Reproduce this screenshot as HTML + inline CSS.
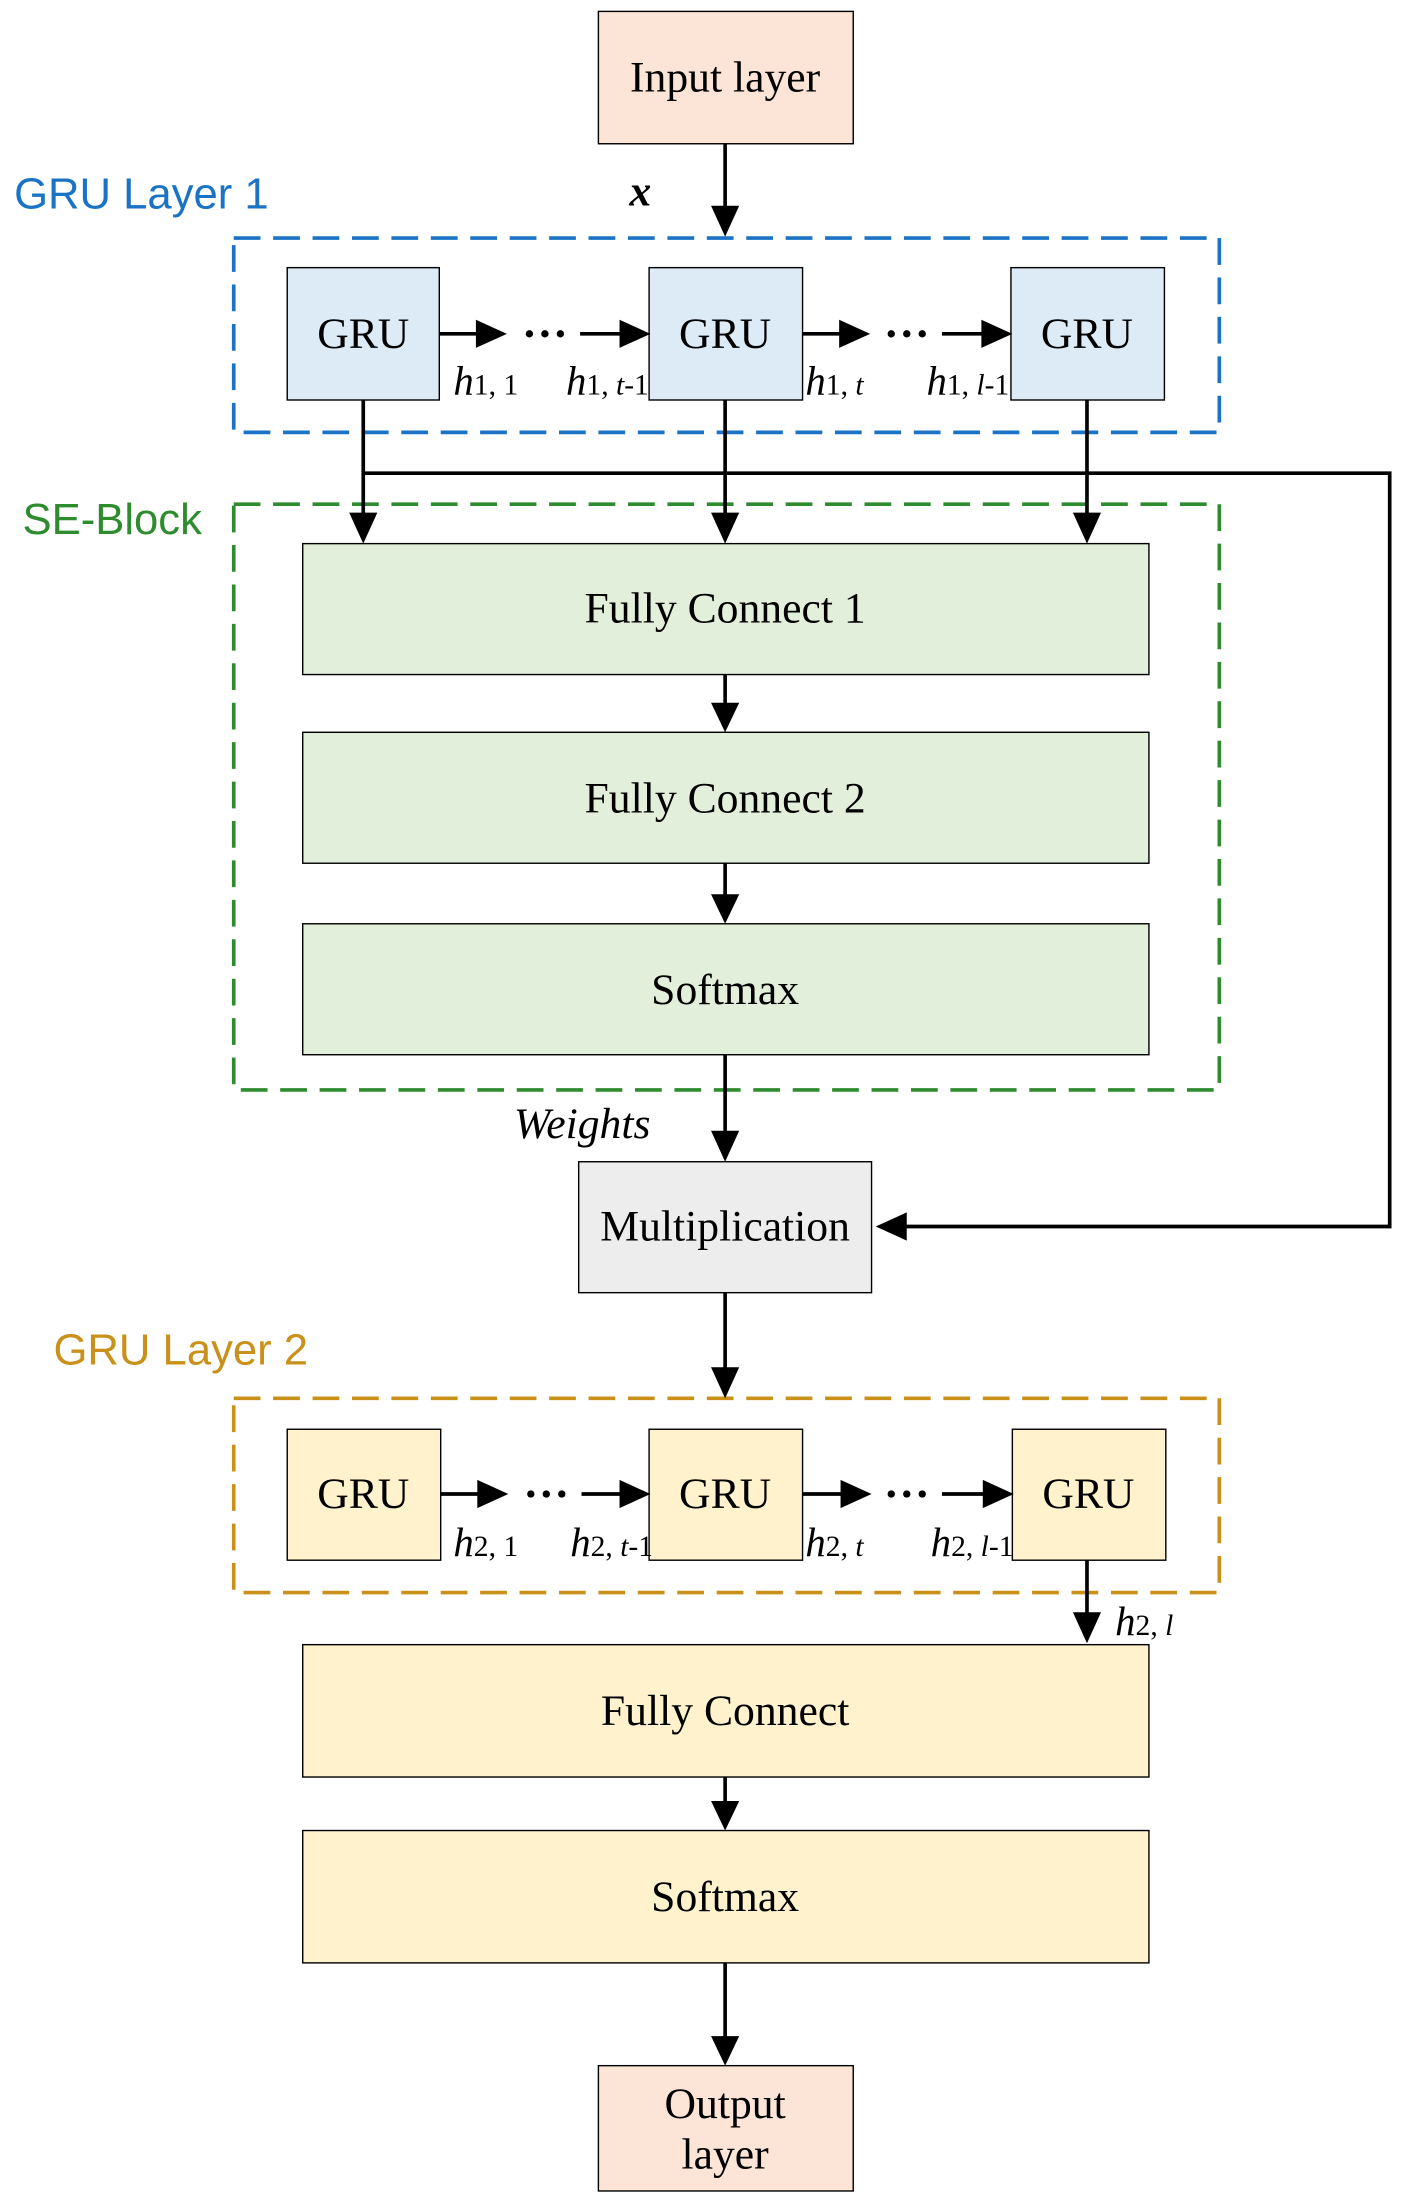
<!DOCTYPE html>
<html><head><meta charset="utf-8"><style>
html,body{margin:0;padding:0;background:#fff;}
svg{display:block;}
.t{font-family:"Liberation Serif",serif;font-size:31px;fill:#000;}
.s{font-family:"Liberation Sans",sans-serif;font-size:31px;}
.h{font-family:"Liberation Serif",serif;font-style:italic;font-size:29px;}
.sub{font-size:21px;}
</style></head><body>
<svg width="1408" height="2208" viewBox="0 0 1000 1568" xmlns="http://www.w3.org/2000/svg">
<g stroke="#000" stroke-width="1">
<rect x="425" y="8" width="181" height="94" fill="#FCE4D6"/>
<rect x="204" y="190" width="108" height="94" fill="#DDEBF7"/>
<rect x="461" y="190" width="109" height="94" fill="#DDEBF7"/>
<rect x="718" y="190" width="109" height="94" fill="#DDEBF7"/>
<rect x="215" y="386" width="601" height="93" fill="#E2EFDA"/>
<rect x="215" y="520" width="601" height="93" fill="#E2EFDA"/>
<rect x="215" y="656" width="601" height="93" fill="#E2EFDA"/>
<rect x="411" y="825" width="208" height="93" fill="#EDEDED"/>
<rect x="204" y="1015" width="109" height="93" fill="#FFF2CC"/>
<rect x="461" y="1015" width="109" height="93" fill="#FFF2CC"/>
<rect x="719" y="1015" width="109" height="93" fill="#FFF2CC"/>
<rect x="215" y="1168" width="601" height="94" fill="#FFF2CC"/>
<rect x="215" y="1300" width="601" height="94" fill="#FFF2CC"/>
<rect x="425" y="1467" width="181" height="89" fill="#FCE4D6"/>
</g>
<g fill="none" stroke-width="2.6" stroke-dasharray="19,9">
<rect x="166" y="169" width="700" height="138" stroke="#1A73C4"/>
<rect x="166" y="358" width="700" height="416" stroke="#2E8B2E"/>
<rect x="166" y="993" width="700" height="138" stroke="#C9901A"/>
</g>
<g stroke="#000" stroke-width="2.6" fill="none">
<line x1="515" y1="102" x2="515" y2="150"/>
<line x1="312" y1="237" x2="342" y2="237"/>
<line x1="412" y1="237" x2="445" y2="237"/>
<line x1="570" y1="237" x2="600" y2="237"/>
<line x1="669" y1="237" x2="702" y2="237"/>
<line x1="313" y1="1061" x2="343" y2="1061"/>
<line x1="413" y1="1061" x2="445" y2="1061"/>
<line x1="570" y1="1061" x2="601" y2="1061"/>
<line x1="669" y1="1061" x2="703" y2="1061"/>
<line x1="258" y1="284" x2="258" y2="368"/>
<line x1="515" y1="284" x2="515" y2="368"/>
<line x1="772" y1="284" x2="772" y2="368"/>
<polyline points="258,336 987,336 987,871 640,871"/>
<line x1="515" y1="479" x2="515" y2="503"/>
<line x1="515" y1="613" x2="515" y2="639"/>
<line x1="515" y1="749" x2="515" y2="807"/>
<line x1="515" y1="918" x2="515" y2="975"/>
<line x1="772" y1="1108" x2="772" y2="1148"/>
<line x1="515" y1="1262" x2="515" y2="1283"/>
<line x1="515" y1="1394" x2="515" y2="1450"/>
</g>
<g fill="#000">
<polygon points="505,146 525,146 515,168"/>
<polygon points="338,227 338,247 360,237"/>
<polygon points="440,227 440,247 462,237"/>
<polygon points="596,227 596,247 618,237"/>
<polygon points="697,227 697,247 719,237"/>
<polygon points="339,1051 339,1071 361,1061"/>
<polygon points="440,1051 440,1071 462,1061"/>
<polygon points="597,1051 597,1071 619,1061"/>
<polygon points="698,1051 698,1071 720,1061"/>
<polygon points="248,364 268,364 258,386"/>
<polygon points="505,364 525,364 515,386"/>
<polygon points="762,364 782,364 772,386"/>
<polygon points="644,861 644,881 622,871"/>
<polygon points="505,499 525,499 515,520"/>
<polygon points="505,635 525,635 515,656"/>
<polygon points="505,803 525,803 515,825"/>
<polygon points="505,971 525,971 515,993"/>
<polygon points="762,1145 782,1145 772,1167"/>
<polygon points="505,1279 525,1279 515,1300"/>
<polygon points="505,1446 525,1446 515,1467"/>
<circle cx="376" cy="237" r="2.6"/><circle cx="387" cy="237" r="2.6"/><circle cx="398" cy="237" r="2.6"/>
<circle cx="633" cy="237" r="2.6"/><circle cx="644" cy="237" r="2.6"/><circle cx="655" cy="237" r="2.6"/>
<circle cx="377" cy="1061" r="2.6"/><circle cx="388" cy="1061" r="2.6"/><circle cx="399" cy="1061" r="2.6"/>
<circle cx="633" cy="1061" r="2.6"/><circle cx="644" cy="1061" r="2.6"/><circle cx="655" cy="1061" r="2.6"/>
</g>
<g class="t" text-anchor="middle">
<text x="515" y="65">Input layer</text>
<text x="258" y="247">GRU</text>
<text x="515" y="247">GRU</text>
<text x="772" y="247">GRU</text>
<text x="515" y="442">Fully Connect 1</text>
<text x="515" y="577">Fully Connect 2</text>
<text x="515" y="713">Softmax</text>
<text x="515" y="881">Multiplication</text>
<text x="258" y="1071">GRU</text>
<text x="515" y="1071">GRU</text>
<text x="773" y="1071">GRU</text>
<text x="515" y="1225">Fully Connect</text>
<text x="515" y="1357">Softmax</text>
<text x="515" y="1504">Output</text>
<text x="515" y="1540">layer</text>
</g>
<text x="447" y="146" class="t" font-weight="bold" font-style="italic" font-size="32">x</text>
<text x="365" y="808" class="t" font-style="italic" font-size="36">Weights</text>
<text x="10" y="148" class="s" fill="#1A73C4">GRU Layer 1</text>
<text x="16" y="379" class="s" fill="#2E8B2E">SE-Block</text>
<text x="38" y="969" class="s" fill="#C9901A">GRU Layer 2</text>
<g class="h">
<text x="322" y="280">h<tspan class="sub" font-style="normal">1, 1</tspan></text>
<text x="402" y="280">h<tspan class="sub" font-style="normal">1, </tspan><tspan class="sub">t</tspan><tspan class="sub" font-style="normal">-1</tspan></text>
<text x="572" y="280">h<tspan class="sub" font-style="normal">1, </tspan><tspan class="sub">t</tspan></text>
<text x="658" y="280">h<tspan class="sub" font-style="normal">1, </tspan><tspan class="sub">l</tspan><tspan class="sub" font-style="normal">-1</tspan></text>
<text x="322" y="1105">h<tspan class="sub" font-style="normal">2, 1</tspan></text>
<text x="405" y="1105">h<tspan class="sub" font-style="normal">2, </tspan><tspan class="sub">t</tspan><tspan class="sub" font-style="normal">-1</tspan></text>
<text x="572" y="1105">h<tspan class="sub" font-style="normal">2, </tspan><tspan class="sub">t</tspan></text>
<text x="661" y="1105">h<tspan class="sub" font-style="normal">2, </tspan><tspan class="sub">l</tspan><tspan class="sub" font-style="normal">-1</tspan></text>
<text x="792" y="1161">h<tspan class="sub" font-style="normal">2, </tspan><tspan class="sub">l</tspan></text>
</g>
</svg>
</body></html>
